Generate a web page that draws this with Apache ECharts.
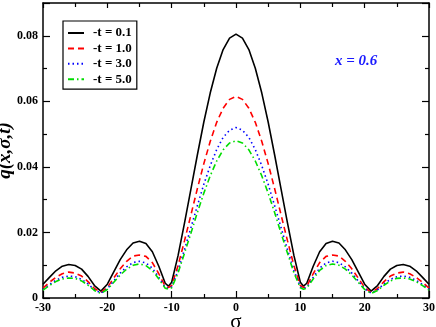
<!DOCTYPE html>
<html>
<head>
<meta charset="utf-8">
<script src="https://cdn.jsdelivr.net/npm/echarts@6/dist/echarts.min.js"></script>
<style>
    html, body { margin: 0; padding: 0; background: #fff; }
    #chart { width: 436px; height: 327px; }
</style>
</head>
<body>
<div id="chart"></div>
<script>
    // sigma positions (extra points at the dips near +-10.5)
    var sigma = [-30, -29, -28, -27, -26, -25, -24, -23, -22, -21, -20, -19, -18, -17, -16, -15, -14, -13, -12, -11, -10.5,
        -10, -9, -8, -7, -6, -5, -4, -3, -2, -1, 0, 1, 2, 3, 4, 5, 6, 7, 8, 9, 10,
        10.5, 11, 12, 13, 14, 15, 16, 17, 18, 19, 20, 21, 22, 23, 24, 25, 26, 27, 28, 29, 30];

    // q(x,sigma,t)
    var q01 = [0.0042, 0.0063, 0.0083, 0.0097, 0.0102, 0.0099, 0.0088, 0.0066, 0.0038, 0.0021, 0.0042, 0.0080, 0.0117, 0.0147, 0.0168, 0.0173, 0.0166, 0.0141, 0.0097, 0.0045, 0.0036,
        0.0048, 0.0130, 0.0229, 0.0333, 0.0437, 0.0537, 0.0626, 0.0701, 0.0758, 0.0793, 0.0805, 0.0793, 0.0758, 0.0701, 0.0626, 0.0537, 0.0437, 0.0333, 0.0229, 0.0130, 0.0048,
        0.0036, 0.0045, 0.0097, 0.0141, 0.0166, 0.0173, 0.0168, 0.0147, 0.0117, 0.0080, 0.0042, 0.0021, 0.0038, 0.0066, 0.0088, 0.0099, 0.0102, 0.0097, 0.0083, 0.0063, 0.0042];
    var q10 = [0.0030, 0.0048, 0.0063, 0.0074, 0.0079, 0.0076, 0.0067, 0.0050, 0.0029, 0.0017, 0.0032, 0.0061, 0.0089, 0.0112, 0.0128, 0.0131, 0.0127, 0.0108, 0.0074, 0.0036, 0.0032,
        0.0038, 0.0099, 0.0175, 0.0254, 0.0334, 0.0410, 0.0478, 0.0536, 0.0579, 0.0606, 0.0615, 0.0606, 0.0579, 0.0536, 0.0478, 0.0410, 0.0334, 0.0254, 0.0175, 0.0099, 0.0038,
        0.0032, 0.0036, 0.0074, 0.0108, 0.0127, 0.0131, 0.0128, 0.0112, 0.0089, 0.0061, 0.0032, 0.0017, 0.0029, 0.0050, 0.0067, 0.0076, 0.0079, 0.0074, 0.0063, 0.0048, 0.0030];
    var q30 = [0.0026, 0.0041, 0.0054, 0.0063, 0.0067, 0.0065, 0.0057, 0.0043, 0.0025, 0.0015, 0.0028, 0.0052, 0.0076, 0.0095, 0.0108, 0.0112, 0.0107, 0.0091, 0.0063, 0.0032, 0.0029,
        0.0034, 0.0084, 0.0148, 0.0215, 0.0282, 0.0347, 0.0404, 0.0453, 0.0490, 0.0512, 0.0520, 0.0512, 0.0490, 0.0453, 0.0404, 0.0347, 0.0282, 0.0215, 0.0148, 0.0084, 0.0034,
        0.0029, 0.0032, 0.0063, 0.0091, 0.0107, 0.0112, 0.0108, 0.0095, 0.0076, 0.0052, 0.0028, 0.0015, 0.0025, 0.0043, 0.0057, 0.0065, 0.0067, 0.0063, 0.0054, 0.0041, 0.0026];
    var q50 = [0.0024, 0.0038, 0.0050, 0.0058, 0.0061, 0.0060, 0.0052, 0.0039, 0.0023, 0.0014, 0.0026, 0.0048, 0.0070, 0.0088, 0.0100, 0.0104, 0.0099, 0.0084, 0.0058, 0.0030, 0.0027,
        0.0031, 0.0077, 0.0137, 0.0198, 0.0261, 0.0320, 0.0373, 0.0418, 0.0452, 0.0473, 0.0480, 0.0473, 0.0452, 0.0418, 0.0373, 0.0320, 0.0261, 0.0198, 0.0137, 0.0077, 0.0031,
        0.0027, 0.0030, 0.0058, 0.0084, 0.0099, 0.0104, 0.0100, 0.0088, 0.0070, 0.0048, 0.0026, 0.0014, 0.0023, 0.0039, 0.0052, 0.0060, 0.0061, 0.0058, 0.0050, 0.0038, 0.0024];

    var names = ['-t = 0.1', '-t = 1.0', '-t = 3.0', '-t = 5.0'];
    var xTicks = [-30, -20, -10, 0, 10, 20, 30];
    var yTicks = [0, 0.02, 0.04, 0.06, 0.08];

    var serif = '"Liberation Serif", "Times New Roman", serif';

    function pairs(vals) {
        return sigma.map(function (s, i) { return [s, vals[i]]; });
    }

    function axisBase() {
        return {
            nameMoveOverlap: false,
            axisLine: { show: true, onZero: false, lineStyle: { color: '#000', width: 1.5 } },
            axisTick: { show: true, inside: true, length: 7, lineStyle: { color: '#000', width: 1.2 } },
            minorTick: { show: true, splitNumber: 2, length: 4, lineStyle: { color: '#000', width: 1.2 } },
            splitLine: { show: false },
            minorSplitLine: { show: false }
        };
    }

    var xBottom = Object.assign(axisBase(), {
        type: 'value', position: 'bottom', min: -30, max: 30, interval: 10,
        name: 'σ', nameLocation: 'middle', nameGap: 14,
        nameTextStyle: { fontFamily: serif, fontSize: 21, color: '#000' },
        axisLabel: {
            fontFamily: serif, fontWeight: 'bold', fontSize: 12, color: '#000', margin: 4,
            formatter: function (v) { return xTicks.indexOf(v) >= 0 ? String(v) : ''; }
        }
    });
    var xTop = Object.assign(axisBase(), {
        type: 'value', position: 'top', min: -30, max: 30, interval: 10,
        axisLabel: { show: false }
    });
    xTop.axisTick = Object.assign({}, xTop.axisTick, { length: 5 });

    var yLeft = Object.assign(axisBase(), {
        type: 'value', position: 'left', min: 0, max: 0.09, interval: 0.02,
        name: 'q(x,σ,t)', nameLocation: 'middle', nameGap: 28, nameRotate: 90,
        nameTextStyle: { fontFamily: serif, fontSize: 19, fontWeight: 'bold', fontStyle: 'italic', color: '#000' },
        axisLabel: {
            fontFamily: serif, fontWeight: 'bold', fontSize: 12, color: '#000', margin: 5,
            showMaxLabel: false,
            formatter: function (v) {
                for (var i = 0; i < yTicks.length; i++) {
                    if (Math.abs(yTicks[i] - v) < 1e-9) return yTicks[i] === 0 ? '0' : yTicks[i].toFixed(2);
                }
                return '';
            }
        }
    });
    var yRight = Object.assign(axisBase(), {
        type: 'value', position: 'right', min: 0, max: 0.09, interval: 0.02,
        axisLabel: { show: false }
    });

    function line(name, vals, color, type) {
        return {
            name: name, type: 'line', data: pairs(vals),
            showSymbol: false, symbol: 'none', smooth: false,
            lineStyle: { color: color, width: 1.6, type: type },
            itemStyle: { color: color }
        };
    }

    var chart = echarts.init(document.getElementById('chart'), null, { renderer: 'canvas' });
    chart.setOption({
        animation: false,
        backgroundColor: '#fff',
        grid: { left: 43, right: 7, top: 3, bottom: 29, outerBoundsMode: 'none' },
        legend: {
            show: true,
            orient: 'vertical', left: 63, top: 21,
            backgroundColor: '#fff', borderColor: '#000', borderWidth: 1.2,
            padding: [5, 5, 3, 4], itemGap: 1.4, itemWidth: 16, itemHeight: 14,
            itemStyle: { opacity: 0 },
            textStyle: { fontFamily: serif, fontWeight: 'bold', fontSize: 13, color: '#000', lineHeight: 14, padding: [0, 0, 0, 4] },
            data: names
        },
        graphic: [{
            type: 'text', left: 335, top: 54,
            style: { text: 'x = 0.6', fill: '#1a1aff', font: 'italic bold 15px ' + serif }
        }],
        xAxis: [xBottom, xTop],
        yAxis: [yLeft, yRight],
        series: [
            line(names[0], q01, '#000000', 'solid'),
            line(names[1], q10, '#ff0000', [6, 4]),
            line(names[2], q30, '#0000ff', [1.5, 3]),
            line(names[3], q50, '#00dd00', [6, 3, 1.5, 3])
        ]
    });
</script>
</body>
</html>
